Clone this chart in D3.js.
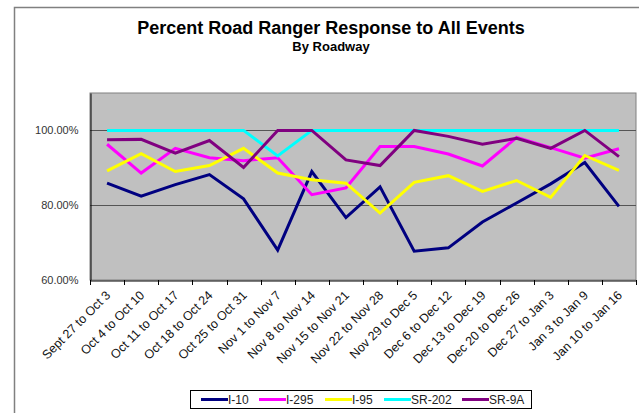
<!DOCTYPE html>
<html>
<head>
<meta charset="utf-8">
<script src="https://d3js.org/d3.v7.min.js"></script>
<style>
  body { margin: 0; background: #fff; }
  text { font-family: Arial, "Liberation Sans", sans-serif; }
</style>
</head>
<body>
<div id="myPlot"></div>
<script>
// weeks on the x axis
const weeks = ["Sept 27 to Oct 3", "Oct 4 to Oct 10", "Oct 11 to Oct 17", "Oct 18 to Oct 24",
  "Oct 25 to Oct 31", "Nov 1 to Nov 7", "Nov 8 to Nov 14", "Nov 15 to Nov 21",
  "Nov 22 to Nov 28", "Nov 29 to Dec 5", "Dec 6 to Dec 12", "Dec 13 to Dec 19",
  "Dec 20 to Dec 26", "Dec 27 to Jan 3", "Jan 3 to Jan 9", "Jan 10 to Jan 16"];

// percent response, per roadway
const i10   = [85.9, 82.4, 85.5, 88.2, 81.7, 68.0, 89.0, 76.7, 84.9, 67.7, 68.6, 75.5, 80.6, 85.7, 91.4, 79.7];
const i295  = [96.3, 88.6, 95.2, 92.7, 91.9, 92.7, 82.8, 84.6, 95.7, 95.7, 93.7, 90.5, 98.1, 95.4, 92.6, 95.1];
const i95   = [89.2, 93.8, 89.0, 90.6, 95.2, 88.6, 86.8, 85.9, 77.9, 86.1, 87.9, 83.7, 86.6, 82.1, 93.3, 89.3];
const sr202 = [100, 100, 100, 100, 100, 93.2, 100, 100, 100, 100, 100, 100, 100, 100, 100, 100];
const sr9a  = [97.5, 97.6, 93.9, 97.3, 90.1, 100, 100, 92.1, 90.6, 100, 98.4, 96.3, 97.9, 95.2, 100, 93.0];

const seriesNames = ["I-10", "I-295", "I-95", "SR-202", "SR-9A"];
const seriesColors = ["#000080", "#ff00ff", "#ffff00", "#00ffff", "#800080"];
const yTicks = [60, 80, 100];

const series = [i10, i295, i95, sr202, sr9a].map((v, i) => ({ name: seriesNames[i], color: seriesColors[i], values: v }));

const width = 639, height = 413;
const margin = { top: 93, right: 3, bottom: 133, left: 90 };

const svg = d3.select("#myPlot")
  .append("svg")
  .attr("width", width)
  .attr("height", height);

// chart frame
svg.append("rect")
  .attr("x", 14.5).attr("y", 7.5)
  .attr("width", 700).attr("height", 500)
  .attr("fill", "#fff").attr("stroke", "#808080").attr("stroke-width", 1.5);

svg.append("text")
  .attr("x", 331).attr("y", 34)
  .attr("text-anchor", "middle")
  .attr("font-size", 18).attr("font-weight", "bold")
  .text("Percent Road Ranger Response to All Events");

svg.append("text")
  .attr("x", 331).attr("y", 51)
  .attr("text-anchor", "middle")
  .attr("font-size", 13).attr("font-weight", "bold")
  .text("By Roadway");

const x = d3.scaleBand()
  .domain(weeks)
  .range([margin.left, width - margin.right]);

const y = d3.scaleLinear()
  .domain([60, 110])
  .range([height - margin.bottom, margin.top]);

// plot area
svg.append("rect")
  .attr("x", margin.left).attr("y", margin.top)
  .attr("width", width - margin.right - margin.left)
  .attr("height", y(60) - margin.top)
  .attr("fill", "#c0c0c0").attr("stroke", "#808080").attr("stroke-width", 1);

// gridlines
svg.append("g")
  .selectAll("line")
  .data(yTicks.slice(1))
  .join("line")
  .attr("x1", margin.left).attr("x2", width - margin.right)
  .attr("y1", d => Math.round(y(d)) + 0.5).attr("y2", d => Math.round(y(d)) + 0.5)
  .attr("stroke", "#555").attr("stroke-width", 1);

// y axis
const yAxis = svg.append("g")
  .attr("transform", `translate(${margin.left + 0.5},0)`)
  .call(d3.axisLeft(y).tickValues(yTicks).tickSize(0).tickPadding(12)
    .tickFormat(d => d.toFixed(2) + "%"));
yAxis.select(".domain").attr("stroke", "#000");
yAxis.selectAll("text").attr("font-size", 11).attr("fill", "#333")
  .attr("font-family", "Arial, 'Liberation Sans', sans-serif");

// x axis
const xAxis = svg.append("g")
  .attr("transform", `translate(0,${y(60) + 0.5})`)
  .call(d3.axisBottom(x).tickSize(0).tickFormat(""));
xAxis.select(".domain").attr("stroke", "#000");

// ticks between categories
svg.append("g")
  .selectAll("line")
  .data(weeks.concat(["end"]))
  .join("line")
  .attr("x1", (d, i) => Math.round(margin.left + i * x.step()) + 0.5)
  .attr("x2", (d, i) => Math.round(margin.left + i * x.step()) + 0.5)
  .attr("y1", y(60)).attr("y2", y(60) + 5)
  .attr("stroke", "#000");

// rotated category labels
svg.append("g")
  .selectAll("text")
  .data(weeks)
  .join("text")
  .attr("text-anchor", "end")
  .attr("font-size", 12.5)
  .attr("fill", "#111")
  .attr("transform", d => `translate(${x(d) + x.bandwidth() / 2 + 4},${y(60) + 16}) rotate(-45)`)
  .text(d => d);

// lines
const line = d3.line()
  .x((d, i) => x(weeks[i]) + x.bandwidth() / 2)
  .y(d => y(d));

svg.append("g")
  .selectAll("path")
  .data(series)
  .join("path")
  .attr("fill", "none")
  .attr("stroke", d => d.color)
  .attr("stroke-width", 3)
  .attr("stroke-linejoin", "miter")
  .attr("d", d => line(d.values));

// legend
const legend = svg.append("g");
legend.append("rect")
  .attr("x", 190.5).attr("y", 390.5)
  .attr("width", 341).attr("height", 18)
  .attr("fill", "#fff").attr("stroke", "#000");

const legendX = [201, 259, 325, 384, 462];
const item = legend.selectAll("g.item")
  .data(series)
  .join("g")
  .attr("class", "item")
  .attr("transform", (d, i) => `translate(${legendX[i]},399.5)`);
item.append("line")
  .attr("x1", 0).attr("x2", 27)
  .attr("stroke", d => d.color).attr("stroke-width", 3);
item.append("text")
  .attr("x", 27).attr("y", 4.5)
  .attr("font-size", 12)
  .attr("fill", "#222")
  .text(d => d.name);
</script>
</body>
</html>
